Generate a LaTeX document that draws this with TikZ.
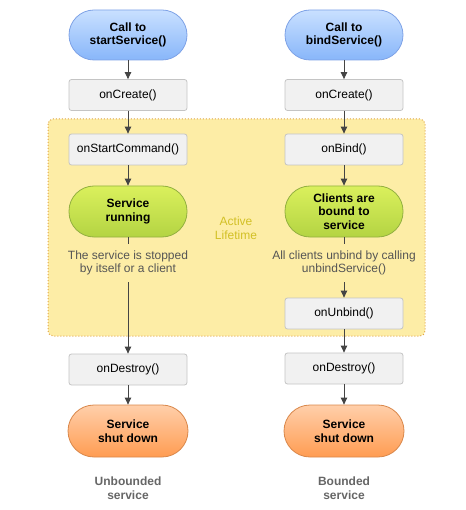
\documentclass[tikz,border=0pt]{standalone}
\usepackage{fontspec}
\setmainfont{Liberation Sans}
\usetikzlibrary{arrows.meta}
\definecolor{arrowgray}{HTML}{444444}
\definecolor{boxfill}{HTML}{F1F1F1}
\definecolor{boxline}{HTML}{C4C4C4}
\definecolor{bluetop}{HTML}{C9E0FF}
\definecolor{bluebot}{HTML}{88B6FA}
\definecolor{blueline}{HTML}{7EA2E6}
\definecolor{greentop}{HTML}{DAF05C}
\definecolor{greenbot}{HTML}{B4D443}
\definecolor{greenline}{HTML}{93B040}
\definecolor{orangetop}{HTML}{FFCFAA}
\definecolor{orangebot}{HTML}{FF9C52}
\definecolor{orangeline}{HTML}{D9874A}
\definecolor{zonefill}{HTML}{FDEDA6}
\definecolor{zoneline}{HTML}{E0A448}
\definecolor{zonetext}{HTML}{D2C025}
\definecolor{notegray}{HTML}{555555}
\definecolor{footgray}{HTML}{666666}
\tikzset{
  txt/.style={font=\fontsize{12}{13.5}\selectfont, align=center},
  callbox/.style={txt, font=\fontsize{12}{13.5}\selectfont\bfseries, draw, line width=0.8pt,
    minimum width=118pt, rounded corners=25pt, inner sep=0pt, shading=axis, shading angle=0},
  pillblue/.style={callbox, draw=blueline, top color=bluetop, bottom color=bluebot, minimum height=50pt},
  pillgreen/.style={callbox, draw=greenline, top color=greentop, bottom color=greenbot, minimum height=51pt},
  pillorange/.style={callbox, draw=orangeline, top color=orangetop, bottom color=orangebot, minimum height=52pt, minimum width=120pt, rounded corners=26pt},
  methodbox/.style={txt, draw=boxline, fill=boxfill, line width=0.8pt, rounded corners=2.5pt,
    minimum width=118pt, minimum height=31pt, inner sep=0pt},
  note/.style={txt, text=notegray, inner sep=0pt, minimum height=38pt},
  foot/.style={txt, font=\fontsize{12}{13.5}\selectfont\bfseries, text=footgray},
  flow/.style={draw=arrowgray, line width=0.9pt, -{Triangle[width=6.5pt,length=7pt]}},
  plain/.style={draw=arrowgray, line width=0.9pt}
}
\begin{document}
\begin{tikzpicture}[x=1pt,y=-1pt]
  \useasboundingbox (0,0) rectangle (465,510);
  % active lifetime zone
  \draw[fill=zonefill, draw=zoneline, dotted, line width=1pt, rounded corners=5pt]
    (48,119) rectangle (425,336);
  \node[txt, text=zonetext] (active) at (236,228) {Active\\Lifetime};

  % unbounded service column
  \node[pillblue]   (callA)    at (128,35)    {Call to\\startService()};
  \node[methodbox]  (createA)  at (128,95)    {onCreate()};
  \node[methodbox]  (startcmd) at (128,149.5) {onStartCommand()};
  \node[pillgreen]  (running)  at (128,211.5) {Service\\running};
  \node[note]       (stopped)  at (128,263)   {The service is stopped\\by itself or a client};
  \node[methodbox]  (destroyA) at (128,369.5) {onDestroy()};
  \node[pillorange] (shutA)    at (128,431)   {Service\\shut down};
  \node[foot]       (unbdlbl)  at (128,488)   {Unbounded\\service};

  % bounded service column
  \node[pillblue]   (callB)    at (344,35)    {Call to\\bindService()};
  \node[methodbox]  (createB)  at (344,95)    {onCreate()};
  \node[methodbox]  (onbind)   at (344,149.5) {onBind()};
  \node[pillgreen]  (bound)    at (344,211.5) {Clients are\\bound to\\service};
  \node[note]       (unbindall) at (344,263)  {All clients unbind by calling\\unbindService()};
  \node[methodbox]  (onunbind) at (344,313.5) {onUnbind()};
  \node[methodbox]  (destroyB) at (344,368.5) {onDestroy()};
  \node[pillorange] (shutB)    at (344,431)   {Service\\shut down};
  \node[foot]       (bdlbl)    at (344,488)   {Bounded\\service};

  % connectors, unbounded
  \draw[flow]  (callA) -- (createA);
  \draw[flow]  (createA) -- (startcmd);
  \draw[flow]  (startcmd) -- (running);
  \draw[plain] (running) -- (stopped);
  \draw[flow]  (stopped) -- (destroyA);
  \draw[flow]  (destroyA) -- (shutA);

  % connectors, bounded
  \draw[flow]  (callB) -- (createB);
  \draw[flow]  (createB) -- (onbind);
  \draw[flow]  (onbind) -- (bound);
  \draw[plain] (bound) -- (unbindall);
  \draw[flow]  (unbindall) -- (onunbind);
  \draw[flow]  (onunbind) -- (destroyB);
  \draw[flow]  (destroyB) -- (shutB);
\end{tikzpicture}
\end{document}
